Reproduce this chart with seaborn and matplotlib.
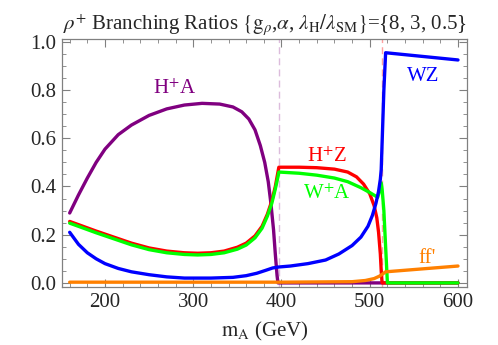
import numpy as np
import pandas as pd
import matplotlib
matplotlib.use('Agg')
import matplotlib.pyplot as plt
from matplotlib.ticker import MultipleLocator
import seaborn as sns

# branching ratios, m_A in GeV
ha_x = [160, 170, 180, 190, 200, 215, 230, 250, 270, 290, 310, 330, 345, 355, 363,
        370, 376, 381, 385, 388, 391, 393, 395, 396, 600]
ha_y = [0.29, 0.365, 0.435, 0.50, 0.555, 0.615, 0.655, 0.695, 0.722, 0.738, 0.745,
        0.742, 0.73, 0.71, 0.68, 0.635, 0.57, 0.50, 0.42, 0.33, 0.22, 0.12, 0.03, 0.0, 0.0]

hz_x = [160, 175, 190, 210, 230, 250, 270, 290, 305, 320, 335, 350, 360, 370, 378,
        384, 389, 393, 396, 397, 420, 440, 460, 475, 485, 493, 500, 505, 508, 510,
        512, 513, 514, 600]
hz_y = [0.255, 0.235, 0.215, 0.19, 0.165, 0.145, 0.132, 0.125, 0.123, 0.125, 0.132,
        0.148, 0.165, 0.195, 0.235, 0.285, 0.34, 0.40, 0.46, 0.48, 0.48, 0.478, 0.472,
        0.46, 0.44, 0.41, 0.37, 0.32, 0.27, 0.21, 0.12, 0.05, 0.0, 0.0]

wa_x = [160, 175, 190, 210, 230, 250, 270, 290, 305, 320, 335, 350, 360, 370, 378,
        384, 389, 393, 396, 397, 420, 440, 460, 475, 490, 500, 509, 511, 513, 514,
        516, 518, 520, 600]
wa_y = [0.248, 0.228, 0.208, 0.183, 0.158, 0.138, 0.125, 0.118, 0.116, 0.118, 0.125,
        0.14, 0.157, 0.187, 0.227, 0.277, 0.33, 0.39, 0.44, 0.46, 0.455, 0.447, 0.435,
        0.42, 0.395, 0.375, 0.355, 0.38, 0.415, 0.39, 0.30, 0.15, 0.0, 0.0]

wz_x = [160, 170, 180, 190, 200, 215, 230, 250, 270, 290, 320, 345, 360, 372, 382,
        390, 397, 410, 430, 450, 465, 480, 490, 498, 503, 507, 510, 512, 513, 514,
        516, 518, 600]
wz_y = [0.21, 0.16, 0.125, 0.10, 0.08, 0.06, 0.046, 0.034, 0.025, 0.02, 0.02, 0.023,
        0.03, 0.04, 0.052, 0.062, 0.066, 0.07, 0.08, 0.095, 0.12, 0.155, 0.19, 0.235,
        0.28, 0.33, 0.38, 0.43, 0.47, 0.58, 0.80, 0.955, 0.925]

ff_x = [160, 400, 480, 495, 505, 511, 515, 518, 600]
ff_y = [0.003, 0.003, 0.005, 0.01, 0.018, 0.028, 0.038, 0.046, 0.07]

channels = ['HA', 'HZ', 'WA', 'WZ', 'ff']
colors = {'HA': '#800080', 'HZ': '#ff0000', 'WA': '#00ff00', 'WZ': '#0000ff', 'ff': '#ff8000'}

frames = []
for name, xs, ys in [('HA', ha_x, ha_y), ('HZ', hz_x, hz_y), ('WA', wa_x, wa_y),
                     ('WZ', wz_x, wz_y), ('ff', ff_x, ff_y)]:
    frames.append(pd.DataFrame({'mA': xs, 'BR': ys, 'channel': name}))
df = pd.concat(frames, ignore_index=True)

sns.set_style('ticks')
plt.rcParams['font.family'] = 'serif'
plt.rcParams['font.serif'] = ['Liberation Serif', 'DejaVu Serif']
plt.rcParams['mathtext.fontset'] = 'stix'
serif = ['Liberation Serif', 'DejaVu Serif']

fig = plt.figure(figsize=(4.98, 3.45), dpi=100)
ax = fig.add_axes([62 / 498, 1 - 287 / 345, 405 / 498, 248 / 345])

# thresholds
ax.axvline(397, color='#dcbcdc', lw=1, ls=(0, (5, 3)), zorder=1)
ax.axvline(514, color='#ffa0a0', lw=1, ls=(0, (5, 3)), zorder=1)

sns.lineplot(data=df, x='mA', y='BR', hue='channel', hue_order=channels,
             palette=colors, estimator=None, sort=False, linewidth=2.4,
             legend=False, ax=ax)

ax.set_xlim(151.3, 610.2)
ax.set_ylim(-0.017, 1.012)
ax.xaxis.set_major_locator(MultipleLocator(100))
ax.xaxis.set_minor_locator(MultipleLocator(20))
ax.yaxis.set_major_locator(MultipleLocator(0.2))
ax.yaxis.set_minor_locator(MultipleLocator(0.05))
ax.yaxis.set_major_formatter(plt.FormatStrFormatter('%.1f'))
ax.tick_params(which='both', direction='in', top=True, right=True, color='#808080',
               labelsize=15, pad=4)
ax.tick_params(which='major', length=6, width=0.8)
ax.tick_params(which='minor', length=3, width=0.6)
for lab in ax.get_xticklabels() + ax.get_yticklabels():
    lab.set_family(serif)
for sp in ax.spines.values():
    sp.set_color('#808080')
    sp.set_linewidth(0.9)

ax.set_xlabel(r'$\mathrm{m_A}$ (GeV)', fontsize=15, labelpad=6, family=serif)
ax.set_ylabel('')
ax.set_title(r'$\rho^{+}$ Branching Ratios $\{\mathrm{g}_\rho$,$\alpha$, $\lambda_\mathrm{H}/\lambda_\mathrm{SM}\}$={8, 3, 0.5}',
             fontsize=15, pad=6, family=serif)

ax.text(279, 0.805, r'H$^{+}$A', color=colors['HA'], fontsize=15, ha='center', va='center', family=serif)
ax.text(451, 0.52, r'H$^{+}$Z', color=colors['HZ'], fontsize=15, ha='center', va='center', family=serif)
ax.text(451, 0.37, r'W$^{+}$A', color=colors['WA'], fontsize=15, ha='center', va='center', family=serif)
ax.text(561, 0.855, 'WZ', color=colors['WZ'], fontsize=15, ha='center', va='center', family=serif)
ax.text(565, 0.10, "ff'", color=colors['ff'], fontsize=15, ha='center', va='center', family=serif)

fig.savefig('out.png', dpi=100)
